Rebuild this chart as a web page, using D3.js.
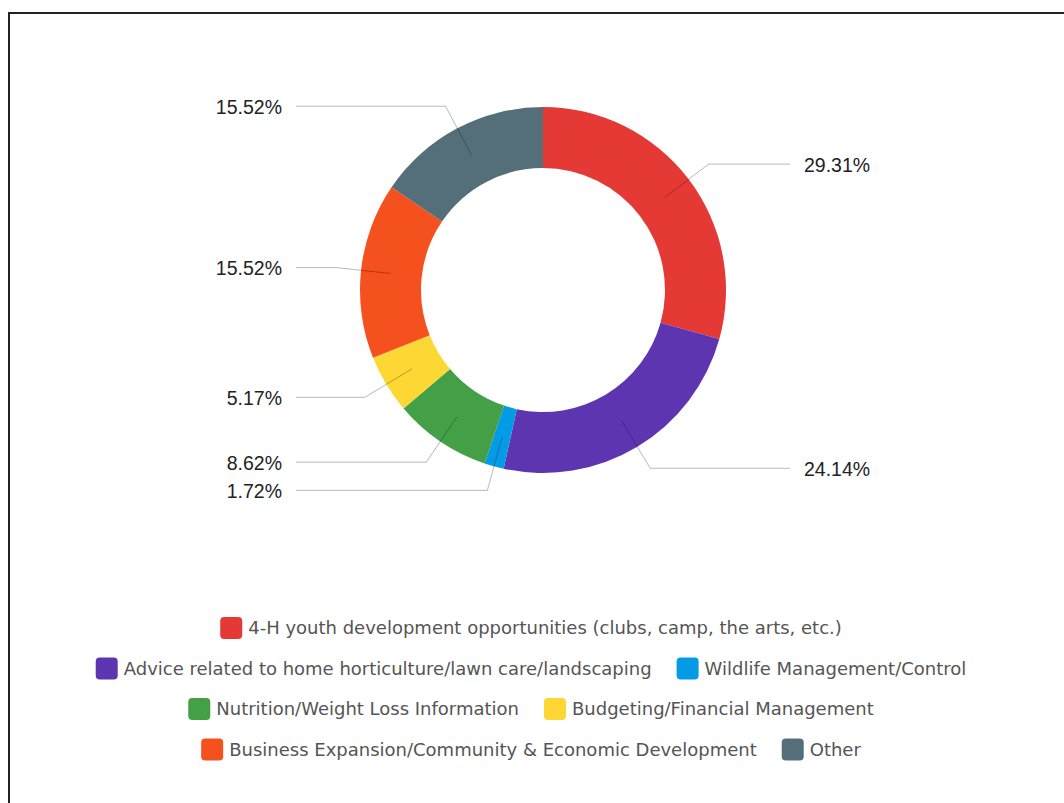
<!DOCTYPE html>
<html>
<head>
<meta charset="utf-8">
<script src="https://cdn.jsdelivr.net/npm/d3@7"></script>
<style>
  body { margin: 0; background: #fff; }
  svg { display: block; }
  .pct { font-family: "Liberation Sans", Arial, sans-serif; font-size: 19.5px; fill: #222; }
  .legtext { font-family: "DejaVu Sans", sans-serif; font-size: 18px; fill: #555; }
</style>
</head>
<body>
<div id="chart"></div>
<script>
// Chart data.
const categories = [
  "4-H youth development opportunities (clubs, camp, the arts, etc.)",
  "Advice related to home horticulture/lawn care/landscaping",
  "Wildlife Management/Control",
  "Nutrition/Weight Loss Information",
  "Budgeting/Financial Management",
  "Business Expansion/Community & Economic Development",
  "Other"
];
const values = [29.31, 24.14, 1.72, 8.62, 5.17, 15.52, 15.52];
const colors = ["#E53935", "#5E35B1", "#039BE5", "#43A047", "#FDD835", "#F4511E", "#546E7A"];

const width = 1064, height = 803;
const cx = 543, cy = 290;
const innerR = 122, outerR = 183;

const svg = d3.select("#chart").append("svg")
    .attr("width", width)
    .attr("height", height);

// Frame (right and bottom edges run off the page).
svg.append("rect")
    .attr("x", 9).attr("y", 13)
    .attr("width", 1200).attr("height", 1000)
    .attr("fill", "none")
    .attr("stroke", "#222")
    .attr("stroke-width", 2);

const data = categories.map((c, i) => ({name: c, value: values[i], color: colors[i]}));

const pie = d3.pie().sort(null).value(d => d.value);
const arcs = pie(data);

const arc = d3.arc().innerRadius(innerR).outerRadius(outerR);
const midArc = d3.arc().innerRadius(153).outerRadius(153);
const elbowArc = d3.arc().innerRadius(208).outerRadius(208);

const g = svg.append("g").attr("transform", "translate(" + cx + "," + cy + ")");

g.selectAll("path.slice")
    .data(arcs)
    .enter().append("path")
    .attr("class", "slice")
    .attr("fill", d => d.data.color)
    .attr("d", arc);

// Leader lines: from the slice middle out to an elbow, then flat to the label.
function side(d) {
    return (d.startAngle + d.endAngle) / 2 < Math.PI ? 1 : -1;
}

g.selectAll("polyline.leader")
    .data(arcs)
    .enter().append("polyline")
    .attr("class", "leader")
    .attr("fill", "none")
    .attr("stroke", "#000")
    .attr("stroke-opacity", 0.28)
    .attr("stroke-width", 1)
    .attr("points", d => {
        let a = midArc.centroid(d);
        let b = elbowArc.centroid(d);
        let c = [side(d) * 247, b[1]];
        return [a, b, c].map(p => p.join(",")).join(" ");
    });

g.selectAll("text.pct")
    .data(arcs)
    .enter().append("text")
    .attr("class", "pct")
    .attr("x", d => side(d) * 261)
    .attr("y", d => elbowArc.centroid(d)[1] + 1)
    .attr("dy", "0.35em")
    .style("text-anchor", d => side(d) > 0 ? "start" : "end")
    .text(d => d.data.value.toFixed(2) + "%");

// Legend, wrapped into centred rows.
const legend = svg.append("g");
const legendCenter = 531, legendTop = 628, rowGap = 40.5;
const sw = 22, swGap = 6, itemGap = 25, maxRow = 1000;

let items = data.map(d => {
    let it = legend.append("g");
    it.append("rect")
        .attr("width", sw).attr("height", sw)
        .attr("rx", 4).attr("ry", 4)
        .attr("y", -sw / 2)
        .attr("fill", d.color);
    let t = it.append("text")
        .attr("class", "legtext")
        .attr("x", sw + swGap)
        .attr("dy", "0.35em")
        .text(d.name);
    return {node: it, w: sw + swGap + t.node().getComputedTextLength()};
});

let rows = [[]], rowW = [0];
items.forEach(it => {
    let r = rows.length - 1;
    let add = (rows[r].length ? itemGap : 0) + it.w;
    if (rows[r].length && rowW[r] + add > maxRow) {
        rows.push([it]);
        rowW.push(it.w);
    } else {
        rows[r].push(it);
        rowW[r] += add;
    }
});

rows.forEach((row, r) => {
    let x = legendCenter - rowW[r] / 2;
    row.forEach(it => {
        it.node.attr("transform", "translate(" + x + "," + (legendTop + r * rowGap) + ")");
        x += it.w + itemGap;
    });
});
</script>
</body>
</html>
